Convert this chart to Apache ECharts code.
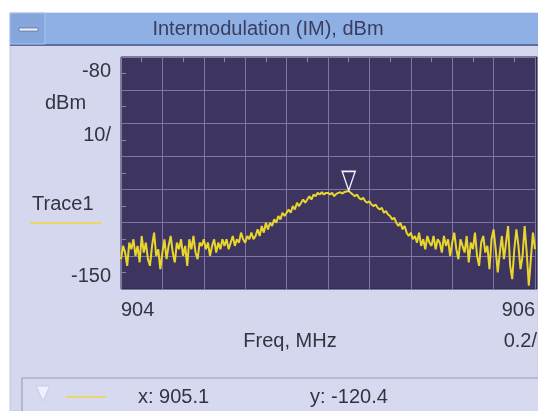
<!DOCTYPE html>
<html><head><meta charset="utf-8">
<script src="https://cdn.jsdelivr.net/npm/echarts@6/dist/echarts.min.js"></script>
<style>html,body{margin:0;padding:0;background:#fff}#c{width:538px;height:411px}</style>
</head><body><div id="c"></div>
<script>
var freqStart = 904.0;
var freqStep = 0.01;
var traceValues = [
 -141,-137,-139,-143,-136,-138,-135,-140,-137,-142,
 -134,-139,-136,-141,-143,-137,-133,-140,-138,-144,
 -139,-135,-141,-137,-134,-139,-142,-136,-138,-135,
 -140,-137,-143,-135,-138,-134,-139,-141,-136,-137,
 -135,-138,-136,-140,-137,-135,-139,-136,-138,-135,
 -137,-135,-138,-136,-134,-137,-135,-136,-133,-135,
 -136,-134,-135,-133,-135,-134,-132,-134,-131,-133,
 -130,-132,-130,-131,-129,-130,-128,-129,-127,-128,
 -127,-126,-127,-125,-126,-124,-125,-124,-123,-124,
 -123,-122,-123,-121.5,-122,-121,-121.5,-120.8,-121.5,-121,
 -121,-121.5,-121,-122,-121.3,-121,-120.8,-121.2,-120.7,-120.6,
 -120.4,-121,-121.5,-122,-121.5,-122.5,-123,-122.5,-123.5,-124,
 -123.5,-124.5,-125,-124.5,-125.5,-126,-125.5,-127,-126.5,-127.5,
 -128,-129,-128.5,-130,-131,-130,-132,-131,-133,-134,
 -133,-135,-134,-136,-133,-137,-135,-138,-134,-136,
 -137,-134,-138,-135,-136,-139,-134,-137,-135,-140,
 -136,-133,-138,-141,-135,-137,-139,-134,-142,-136,
 -138,-133,-140,-143,-136,-134,-139,-137,-144,-135,
 -132,-138,-145,-139,-134,-141,-136,-131,-143,-147,
 -138,-132,-137,-144,-140,-131,-139,-149,-141,-133,
 -138
];
var markerX = 905.1;
var markerY = -120.4;
var xMin = 904, xMax = 906, xInterval = 0.2;
var yMin = -150, yMax = -80, yInterval = 10;
var titleText = 'Intermodulation (IM), dBm';
var xAxisName = 'Freq, MHz';
var xScaleText = '0.2/';
var yUnitText = 'dBm';
var yScaleText = '10/';
var traceName = 'Trace1';

var pts = traceValues.map(function(v, i){ return [+(freqStart + i*freqStep).toFixed(2), v]; });

var FONT = '"Liberation Sans", Arial, sans-serif';
var FS = 20;
var F = FS + 'px ' + FONT;
var TXT = '#33343f';
var G = {left: 121, right: 1, top: 57, bottom: 122};
var chart = echarts.init(document.getElementById('c'), null, {renderer:'canvas'});
chart.setOption({
  animation: false,
  backgroundColor: '#ffffff',
  grid: {left: G.left, right: G.right, top: G.top, bottom: G.bottom, show: false},
  xAxis: [{
    type: 'value', min: xMin, max: xMax, interval: xInterval,
    axisLine: {show: false, onZero: false}, axisTick: {show: false},
    splitLine: {show: true, lineStyle: {color: '#8076a4', width: 1}},
    axisLabel: {show: true, margin: 11, fontFamily: FONT, fontSize: FS, color: TXT,
      alignMinLabel: 'left', alignMaxLabel: 'right',
      formatter: function(v){ return (Math.abs(v-xMin)<1e-6 || Math.abs(v-xMax)<1e-6) ? String(Math.round(v)) : ''; }}
  },{
    type: 'value', min: xMin, max: xMax, interval: xInterval, position: 'top',
    axisLine: {show: false, onZero: false}, axisLabel: {show: false}, splitLine: {show: false},
    axisTick: {show: false, inside: true},
    minorTick: {show: true, splitNumber: 2, length: 5, lineStyle: {color: '#8c82ae', width: 1}}
  }],
  yAxis: [{
    type: 'value', min: yMin, max: yMax, interval: yInterval,
    axisLine: {show: false, onZero: false}, axisTick: {show: false, inside: true},
    splitLine: {show: true, lineStyle: {color: '#8076a4', width: 1}},
    minorTick: {show: true, splitNumber: 2, length: 5, lineStyle: {color: '#8c82ae'}},
    axisLabel: {show: true, margin: 10, fontFamily: FONT, fontSize: FS, color: TXT,
      formatter: function(v){
        if (v === yMax) return '{t|' + v + '}';
        if (v === yMin) return '{b|' + v + '}';
        return '';
      },
      rich: {
        t: {fontFamily: FONT, fontSize: FS, color: TXT, padding: [28, 0, 0, 0]},
        b: {fontFamily: FONT, fontSize: FS, color: TXT, padding: [0, 0, 25, 0]}
      }}
  }],
  series: [{
    type: 'line', data: pts, showSymbol: false, symbol: 'none',
    lineStyle: {color: '#e8d62c', width: 2},
    markPoint: {
      symbol: 'triangle', symbolRotate: 180, symbolSize: [13, 19], symbolOffset: [0, -10],
      itemStyle: {color: 'rgba(0,0,0,0)', borderColor: '#f4f2ff', borderWidth: 1.5},
      label: {show: false},
      data: [{coord: [markerX, markerY]}]
    }
  },{
    type: 'line', xAxisIndex: 1, data: [], showSymbol: false, silent: true
  }],
  graphic: [
    {type:'rect', z:-10, shape:{x:10,y:13,width:528,height:398}, style:{fill:'#d5d7ef', stroke:'#c4c6e0', lineWidth:1}},
    {type:'rect', z:-9, shape:{x:G.left,y:G.top,width:538-G.left-G.right,height:411-G.top-G.bottom}, style:{fill:'#3d3560', stroke:'#2a2442', lineWidth:1}},
    {type:'rect', shape:{x:10,y:13,width:528,height:32}, style:{fill:'#8fb0e4'}},
    {type:'rect', shape:{x:10,y:44,width:528,height:2}, style:{fill:'#5a6fa0'}},
    {type:'rect', shape:{x:10,y:13,width:35,height:31}, style:{fill:'#86a7dd', stroke:'#a9c3ee', lineWidth:1}},
    {type:'rect', shape:{x:19,y:28,width:19,height:3}, style:{fill:'#e8eefc', stroke:'#4a5b85', lineWidth:0.6}},
    {type:'text', style:{x:268, y:29, text: titleText, font: F, fill:'#3a3d5c', align:'center', verticalAlign:'middle'}},
    {type:'text', style:{x:45, y:103, text: yUnitText, font: F, fill: TXT, verticalAlign:'middle'}},
    {type:'text', style:{x:111, y:135, text: yScaleText, font: F, fill: TXT, align:'right', verticalAlign:'middle'}},
    {type:'text', style:{x:32, y:204, text: traceName, font: F, fill: TXT, verticalAlign:'middle'}},
    {type:'rect', shape:{x:30,y:222,width:72,height:2}, style:{fill:'#e9d96a'}},
    {type:'text', style:{x:290, y:341, text: xAxisName, font: F, fill: TXT, align:'center', verticalAlign:'middle'}},
    {type:'text', style:{x:537, y:341, text: xScaleText, font: F, fill: TXT, align:'right', verticalAlign:'middle'}},
    {type:'rect', shape:{x:22,y:378,width:520,height:40}, style:{fill:'#d7d9f1', stroke:'#9c9eba', lineWidth:1.2}},
    {type:'polygon', shape:{points:[[36,386],[50,386],[43,401]]}, style:{fill:'#eef0ff', stroke:'#c8cae6', lineWidth:1}},
    {type:'rect', shape:{x:66,y:396,width:40,height:2}, style:{fill:'#e6d86a'}},
    {type:'text', style:{x:138, y:397, text: 'x: ' + markerX.toFixed(1), font: F, fill: TXT, verticalAlign:'middle'}},
    {type:'text', style:{x:310, y:397, text: 'y: ' + markerY.toFixed(1), font: F, fill: TXT, verticalAlign:'middle'}}
  ]
});
</script></body></html>
